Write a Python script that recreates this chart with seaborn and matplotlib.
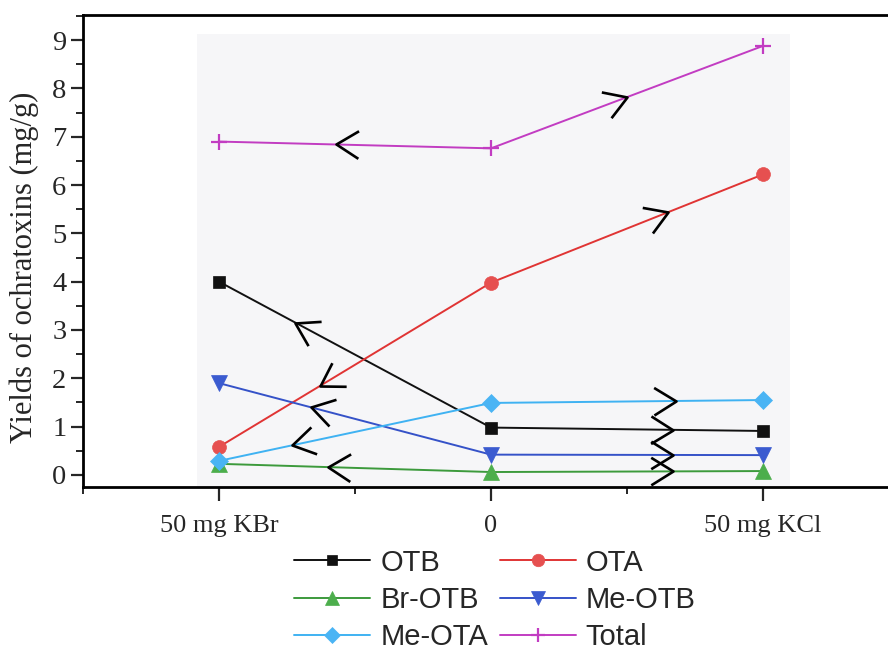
import numpy as np
import pandas as pd
import matplotlib
matplotlib.use("Agg")
import matplotlib.pyplot as plt
from matplotlib.ticker import MultipleLocator
from matplotlib.path import Path
from matplotlib.markers import MarkerStyle
from matplotlib.transforms import Affine2D
import seaborn as sns

# Treatments along the x axis
conditions = ["50 mg KBr", "0", "50 mg KCl"]
positions = [-1, 0, 1]

# Yields (mg/g) per compound
otb = [4.0, 0.98, 0.91]
ota = [0.58, 3.98, 6.22]
br_otb = [0.23, 0.06, 0.08]
me_otb = [1.9, 0.42, 0.41]
me_ota = [0.29, 1.49, 1.55]
total = [6.9, 6.76, 8.88]

series_names = ["OTB", "OTA", "Br-OTB", "Me-OTB", "Me-OTA", "Total"]
series_values = [otb, ota, br_otb, me_otb, me_ota, total]

colors = {"OTB": "#111111", "OTA": "#e03434", "Br-OTB": "#3c9a3c",
          "Me-OTB": "#3552c8", "Me-OTA": "#3fb2f2", "Total": "#c23cc2"}
face = {"OTB": "#111111", "OTA": "#e65050", "Br-OTB": "#4cae4c",
        "Me-OTB": "#3b5bd0", "Me-OTA": "#4ab4f4", "Total": "#c23cc2"}
markers = {"OTB": "s", "OTA": "o", "Br-OTB": "^", "Me-OTB": "v",
           "Me-OTA": "D", "Total": "+"}
msizes = {"OTB": 8.5, "OTA": 10, "Br-OTB": 11, "Me-OTB": 11,
          "Me-OTA": 9, "Total": 11}

df = pd.DataFrame({
    "pos": positions * len(series_names),
    "value": [v for vals in series_values for v in vals],
    "series": [n for n in series_names for _ in positions],
})

sns.set_theme(style="white")
plt.rcParams["font.family"] = ["Liberation Serif", "DejaVu Serif"]

fig = plt.figure(figsize=(8.88, 6.55), dpi=100)
ax = fig.add_axes([83 / 888, 1 - 487 / 655, 816 / 888, 472 / 655])

ax.set_xlim(-1.5, 1.5)
ax.set_ylim(-0.25, 9.52)

# faint grey backdrop behind the data region
ax.axvspan(-1.08, 1.1, ymin=0.0, ymax=0.96, color="#f6f6f8", zorder=0, lw=0)

handles = {}
for name in series_names:
    sub = df[df["series"] == name]
    sns.lineplot(data=sub, x="pos", y="value", ax=ax, color=colors[name],
                 lw=1.4, legend=False, zorder=2)
    ax.plot(sub["pos"], sub["value"], ls="none", marker=markers[name],
            ms=msizes[name], mfc=face[name], mec=face[name],
            mew=1.6 if name == "Total" else 0.5, zorder=3)
    h, = ax.plot([], [], color=colors[name], lw=1.4, marker=markers[name],
                 ms=msizes[name] * 0.9, mfc=face[name], mec=face[name],
                 mew=1.6 if name == "Total" else 0.5)
    handles[name] = h

# open chevrons showing direction away from the control
chev_path = Path([(-1.0, 0.62), (0.0, 0.0), (-1.0, -0.62)])


def chevron(vals, seg, frac):
    if seg == 0:
        x0, y0, x1, y1 = positions[1], vals[1], positions[0], vals[0]
    else:
        x0, y0, x1, y1 = positions[1], vals[1], positions[2], vals[2]
    xa = x0 + (x1 - x0) * frac
    ya = y0 + (y1 - y0) * frac
    p0 = ax.transData.transform((x0, y0))
    p1 = ax.transData.transform((x1, y1))
    ang = np.degrees(np.arctan2(p1[1] - p0[1], p1[0] - p0[0]))
    m = MarkerStyle(chev_path, transform=Affine2D().rotate_deg(ang))
    ax.plot([xa], [ya], ls="none", marker=m, ms=32, mfc="none",
            mec="black", mew=1.9, zorder=4)


left_frac = {"OTB": 0.72, "OTA": 0.63, "Br-OTB": 0.60, "Me-OTB": 0.66,
             "Me-OTA": 0.73, "Total": 0.57}
right_frac = {"OTB": 0.67, "OTA": 0.65, "Br-OTB": 0.67, "Me-OTB": 0.67,
              "Me-OTA": 0.68, "Total": 0.50}
for name, vals in zip(series_names, series_values):
    chevron(vals, 0, left_frac[name])
    chevron(vals, 1, right_frac[name])

ax.set_xticks(positions)
ax.set_xticklabels(conditions, fontsize=19)
ax.xaxis.set_minor_locator(MultipleLocator(0.5))
ax.yaxis.set_major_locator(MultipleLocator(1))
ax.yaxis.set_minor_locator(MultipleLocator(0.5))
ax.tick_params(axis="y", labelsize=20.5, direction="out", length=9, width=1.6,
               left=True, right=False, pad=3)
ax.tick_params(axis="y", which="minor", direction="out", length=5, width=1.4,
               left=True)
ax.tick_params(axis="x", direction="out", length=10, width=1.6, bottom=True,
               top=False, pad=10)
ax.tick_params(axis="x", which="minor", direction="out", length=5, width=1.4,
               bottom=True)
ax.set_xlabel("")
ax.set_ylabel("Yields of ochratoxins (mg/g)", fontsize=22)
ax.yaxis.set_label_coords(-0.054, 0.466)
for side in ["left", "bottom", "top", "right"]:
    ax.spines[side].set_linewidth(2)
    ax.spines[side].set_color("black")

# two columns, filled row by row
legend_order = ["OTB", "Br-OTB", "Me-OTA", "OTA", "Me-OTB", "Total"]
fig.legend([handles[n] for n in legend_order], legend_order, loc="center",
           ncol=2, bbox_to_anchor=(495 / 888, 1 - 600 / 655), frameon=False,
           prop={"family": "Liberation Sans", "size": 21},
           handlelength=2.6, columnspacing=0.4, labelspacing=0.32,
           handletextpad=0.35, borderpad=0.1)

fig.savefig("out.png", dpi=100)
